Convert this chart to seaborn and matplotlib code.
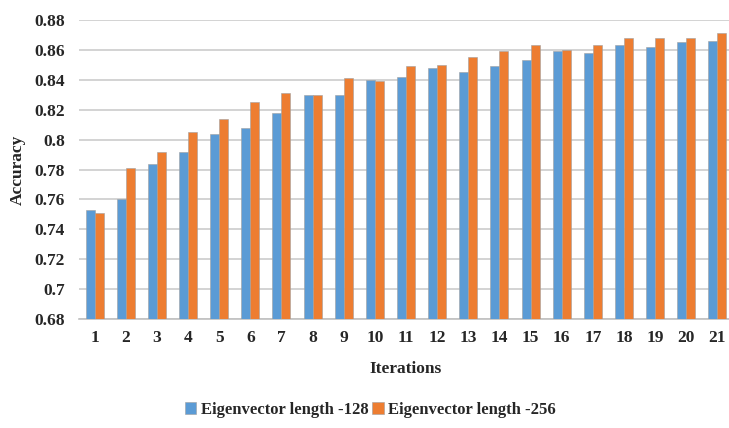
import numpy as np
import pandas as pd
import seaborn as sns
from matplotlib import pyplot as plt

iterations = list(range(1, 22))
acc_128 = [0.753, 0.760, 0.784, 0.792, 0.804, 0.808, 0.818, 0.830, 0.830, 0.840, 0.842,
           0.848, 0.845, 0.849, 0.853, 0.859, 0.858, 0.863, 0.862, 0.865, 0.866]
acc_256 = [0.751, 0.781, 0.792, 0.805, 0.814, 0.825, 0.831, 0.830, 0.841, 0.839, 0.849,
           0.850, 0.855, 0.859, 0.863, 0.860, 0.863, 0.868, 0.868, 0.868, 0.871]
series_names = ['Eigenvector length -128', 'Eigenvector length -256']
y_ticks = [0.68, 0.7, 0.72, 0.74, 0.76, 0.78, 0.8, 0.82, 0.84, 0.86, 0.88]
y_tick_labels = ['0.68', '0.7', '0.72', '0.74', '0.76', '0.78', '0.8', '0.82', '0.84', '0.86', '0.88']

df = pd.DataFrame({
    'Iterations': iterations * 2,
    'Accuracy': acc_128 + acc_256,
    'series': [series_names[0]] * 21 + [series_names[1]] * 21,
})

sns.set_style('white')
plt.rcParams['font.family'] = ['Liberation Serif', 'DejaVu Serif']
plt.rcParams['font.weight'] = 'bold'

fig = plt.figure(figsize=(7.29, 4.28), dpi=100)
ax = fig.add_axes([79 / 729, 1 - 319 / 428, 654 / 729, 299 / 428])

sns.barplot(data=df, x='Iterations', y='Accuracy', hue='series',
            palette=['#5B9BD5', '#ED7D31'], saturation=1, width=0.58, gap=0,
            edgecolor='#a0a0a0', linewidth=0.4, ax=ax, zorder=3)

ax.set_ylim(0.68, 0.88)
ax.set_yticks(y_ticks)
ax.set_yticklabels(y_tick_labels)
ax.yaxis.grid(True, color='#c8c8c8', linewidth=1.1, zorder=0)
ax.set_axisbelow(True)
for s in ['top', 'right', 'left']:
    ax.spines[s].set_visible(False)
ax.spines['bottom'].set_color('#c0c0c0')
ax.spines['bottom'].set_linewidth(1.2)
ax.tick_params(axis='both', length=0, labelsize=12.5, pad=8)
ax.tick_params(axis='y', pad=10)
for lbl in ax.get_xticklabels() + ax.get_yticklabels():
    lbl.set_fontweight('bold')

ax.set_xlabel('Iterations', fontsize=12.5, fontweight='bold', labelpad=11)
ax.set_ylabel('Accuracy', fontsize=12.5, fontweight='bold', labelpad=6)

ax.legend_.remove()
handles, labels = ax.get_legend_handles_labels()
fig.legend(handles, labels, loc='center', bbox_to_anchor=(0.508, 0.042), ncol=2,
           frameon=False, prop={'size': 12, 'weight': 'bold'},
           handlelength=0.7, handleheight=0.7, handletextpad=0.25, columnspacing=0.25)

fig.savefig('out.png', dpi=100)
